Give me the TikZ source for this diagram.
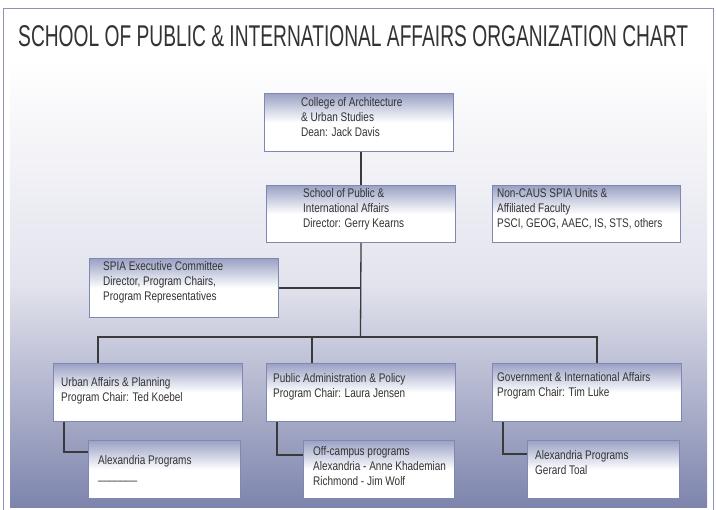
\documentclass[tikz,border=0pt]{standalone}
\usepackage{fontspec}
\setmainfont{Liberation Sans}[FakeStretch=0.8]
\newfontfamily\titlefont{Liberation Sans}[FakeStretch=0.64]
\usepackage{tikz}
\usepackage{xcolor}
\usetikzlibrary{calc}
\definecolor{frameline}{HTML}{8C93B8}
\definecolor{bgmiddle}{HTML}{E2E3ED}
\definecolor{bgbottom}{HTML}{7D84AC}
\definecolor{boxline}{HTML}{7F87B3}
\definecolor{boxtop}{HTML}{9AA1C4}
\definecolor{linkgray}{HTML}{3A3A3A}
\tikzset{
	unitbox/.style={draw=boxline,line width=1pt,top color=boxtop,bottom color=white,middle color=white,
		anchor=north west,inner sep=0pt,minimum width=189pt,minimum height=58pt},
	smallbox/.style={unitbox,minimum width=152pt},
	unittext/.style={anchor=north west,inner sep=0pt,align=left,text=black!80,
		font=\fontsize{12.5}{15}\selectfont},
	link/.style={draw=linkgray,line width=1.3pt}
}

\begin{document}
\begin{tikzpicture}[x=1pt,y=-1pt]

%
\useasboundingbox (0,0) rectangle (716,510);
\fill[white] (0,0) rectangle (716,510);
\shade[top color=white,bottom color=bgbottom,middle color=bgmiddle] (10,60) rectangle (707,508);
\draw[frameline,line width=1pt] (3,9) rectangle (713,530);
\node[anchor=base west,inner sep=0pt,text=black!80,font=\titlefont\fontsize{30}{32}\selectfont] (title) at (18,47) {SCHOOL OF PUBLIC \& INTERNATIONAL AFFAIRS ORGANIZATION CHART};

% top levels
\node[unitbox] (college) at (264,93) {};
\node[unittext] (collegetext) at (301,97.5) {College of Architecture\\\& Urban Studies\\Dean: Jack Davis};
\node[unitbox,minimum height=57pt] (school) at (266,185) {};
\node[unittext] (schooltext) at (303,188.5) {School of Public \&\\International Affairs\\Director: Gerry Kearns};
\node[unitbox,minimum width=188pt,minimum height=57pt] (noncaus) at (492,185) {};
\node[unittext] (noncaustext) at (497,188.5) {Non-CAUS SPIA Units \&\\Affiliated Faculty\\PSCI, GEOG, AAEC, IS, STS, others};
\node[unitbox,minimum height=59pt] (spia) at (89,258) {};
\node[unittext] (spiatext) at (103,261.5) {SPIA Executive Committee\\Director, Program Chairs,\\Program Representatives};

% programs
\node[unitbox] (urban) at (53,363) {};
\node[unittext] (urbantext) at (61,377.5) {Urban Affairs \& Planning\\Program Chair: Ted Koebel};
\node[unitbox] (public) at (266,363) {};
\node[unittext] (publictext) at (273,373.5) {Public Administration \& Policy\\Program Chair: Laura Jensen};
\node[unitbox] (gov) at (492,363) {};
\node[unittext] (govtext) at (497,372.5) {Government \& International Affairs\\Program Chair: Tim Luke};

% sub programs
\node[smallbox] (alexurban) at (88,440) {};
\node[unittext] (alexurbantext) at (98,455.5) {Alexandria Programs\\\_\_\_\_\_\_\_};
\node[smallbox,minimum width=151pt] (offcampus) at (303,440) {};
\node[unittext] (offcampustext) at (313,446.5) {Off-campus programs\\Alexandria - Anne Khademian\\Richmond - Jim Wolf};
\node[smallbox] (alexgov) at (527,440) {};
\node[unittext] (alexgovtext) at (535,450.5) {Alexandria Programs\\Gerard Toal};

% links
\coordinate (bus) at (360.5,337);
\draw[link] (school.north |- college.south) -- (school.north);
\draw[link] (school.south) -- (bus);
\draw[link] (spia.east) -- (spia.east -| bus);
\draw[link] ([xshift=45pt]urban.north west) |- (bus) -| ([xshift=105pt]gov.north west);
\draw[link] ([xshift=46pt]public.north west) -- +(0,-26);
\draw[link] ([xshift=11pt]urban.south west) |- ([yshift=-12pt]alexurban.north west);
\draw[link] ([xshift=11pt]public.south west) |- ([yshift=-15pt]offcampus.north west);
\draw[link] ([xshift=11pt]gov.south west) |- ([yshift=-14pt]alexgov.north west);

\end{tikzpicture}
\end{document}
